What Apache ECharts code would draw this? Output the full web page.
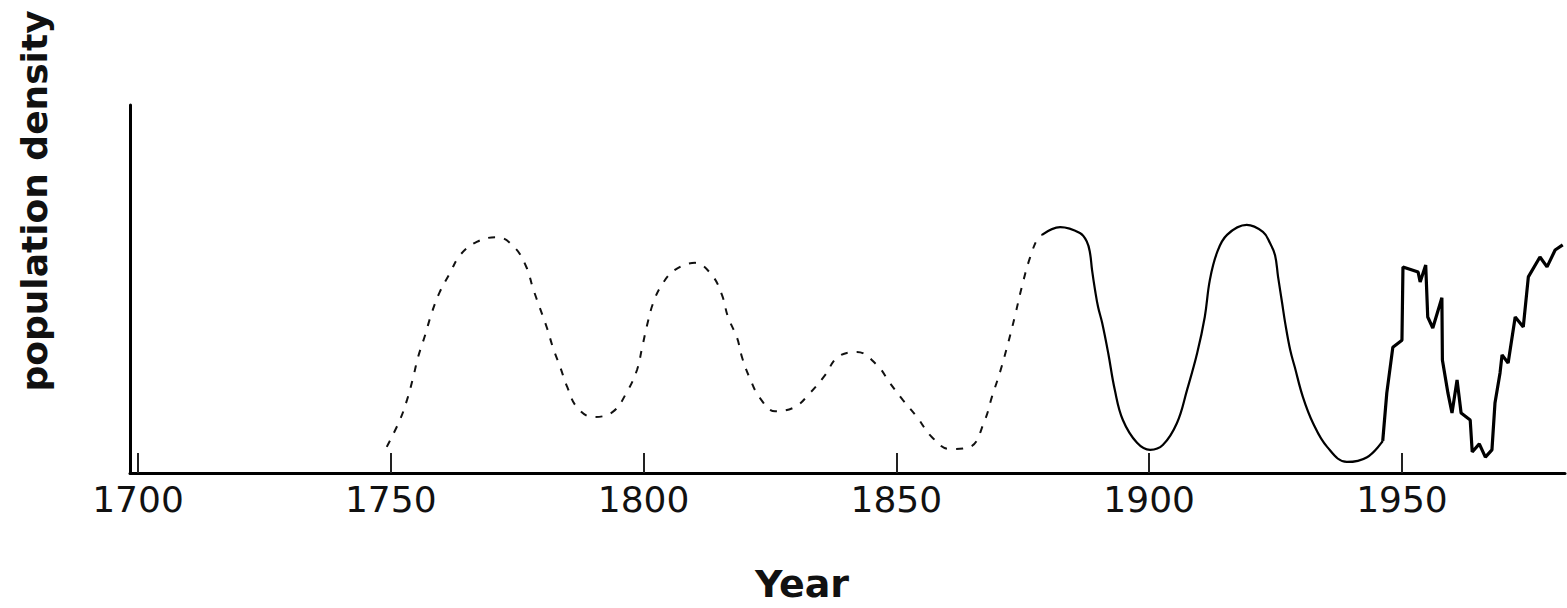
<!DOCTYPE html>
<html>
<head>
<meta charset="utf-8">
<script src="https://cdn.jsdelivr.net/npm/echarts@6/dist/echarts.min.js"></script>
<style>
html,body{margin:0;padding:0;background:#fff;}
#chart{width:1567px;height:608px;}
</style>
</head>
<body>
<div id="chart"></div>
<script>
// Reconstructed historical record (dashed, uncertain)
var dashedYears = [1749.2,1751.8,1753.2,1754.4,1755.4,1756.8,1758.1,1759.7,1761.7,1763.7,1767.0,1771.0,1774.6,1776.9,1778.1,1779.5,1780.9,1782.1,1783.5,1784.9,1786.8,1790.0,1793.9,1796.7,1798.7,1799.7,1800.7,1801.9,1803.6,1806.2,1810.2,1813.5,1815.5,1816.7,1818.5,1819.5,1821.0,1823.0,1826.0,1829.9,1832.9,1835.9,1838.4,1842.2,1846.2,1848.7,1851.3,1854.1,1857.0,1860.6,1864.6,1867.5,1868.9,1870.5,1872.1,1873.5,1874.8,1876.4,1878.0,1878.8];
var dashedDensity = [7.1,14.4,19.8,25.8,31.5,37.5,43.5,49.2,54.3,59.2,62.8,64.1,61.1,55.7,50.3,44.8,39.4,34.0,28.8,23.4,17.9,15.2,16.6,22.0,28.0,34.0,40.2,46.2,51.1,55.2,57.1,53.8,48.4,42.4,36.7,31.3,25.8,20.4,16.8,17.9,21.7,26.6,31.5,32.9,29.3,24.5,19.8,15.2,9.8,6.5,7.1,14.4,20.7,27.4,35.3,42.9,50.5,58.4,63.9,64.7];
// Solid smooth record
var solidYears = [1878.8,1882.4,1886.3,1887.7,1888.3,1888.7,1889.3,1889.9,1890.7,1891.9,1893.2,1894.8,1897.6,1900.2,1902.7,1905.5,1907.5,1909.5,1911.0,1912.0,1913.4,1915.4,1919.3,1922.5,1923.9,1924.9,1925.5,1926.3,1926.9,1927.9,1928.8,1930.4,1932.4,1935.2,1939.1,1943.1,1946.2];
var solidDensity = [64.7,66.8,65.2,62.8,59.8,55.2,49.7,45.1,40.8,32.6,22.6,14.4,8.2,6.3,7.6,13.6,22.6,32.6,42.4,52.4,59.8,64.7,67.4,65.5,62.5,59.2,53.3,46.2,40.8,33.4,28.8,20.7,13.6,7.1,3.0,4.3,8.7];
// Recent annual census
var recentYears = [1946.2,1947.0,1948.2,1950.0,1950.2,1953.2,1953.6,1954.7,1955.1,1956.1,1957.9,1958.0,1959.1,1959.9,1960.9,1961.7,1963.5,1963.9,1965.3,1966.5,1967.8,1968.4,1969.4,1969.8,1971.0,1972.4,1974.0,1975.0,1977.3,1978.7,1980.3,1981.8];
var recentDensity = [8.7,21.7,34.2,36.1,56.0,54.6,51.9,56.5,42.4,39.4,47.6,30.7,21.7,16.3,25.3,16.3,14.4,5.7,7.9,4.3,6.3,19.0,27.2,32.1,29.9,42.4,39.7,53.3,58.7,56.0,60.6,62.0];
// Axis tick labels
var tickYears = [1700,1750,1800,1850,1900,1950];

function pairs(xs, ys){ return xs.map(function(x,i){ return [x, ys[i]]; }); }

var chart = echarts.init(document.getElementById('chart'), null, {renderer:'svg'});
chart.setOption({
  animation:false,
  backgroundColor:'#fff',
  grid:{left:130, right:2, top:105, bottom:135, containLabel:false},
  xAxis:{
    type:'value', min:1698.42, max:1982.25,
    splitLine:{show:false},
    axisLine:{show:true, lineStyle:{color:'#000', width:3}},
    axisTick:{show:true, inside:true, length:20, customValues:tickYears, lineStyle:{color:'#222', width:2}},
    axisLabel:{show:true, customValues:tickYears, fontFamily:'DejaVu Sans', fontSize:36, color:'#111', margin:8,
      formatter:function(v){ return String(v); }}
  },
  yAxis:{
    type:'value', min:0, max:100,
    splitLine:{show:false},
    axisLine:{show:true, lineStyle:{color:'#000', width:3}},
    axisTick:{show:false},
    axisLabel:{show:false}
  },
  series:[
    {type:'line', data:pairs(dashedYears, dashedDensity), smooth:0.4, showSymbol:false,
     lineStyle:{color:'#111', width:2, type:[7,9]}},
    {type:'line', data:pairs(solidYears, solidDensity), smooth:0.4, showSymbol:false,
     lineStyle:{color:'#000', width:2.2}},
    {type:'line', data:pairs(recentYears, recentDensity), smooth:false, showSymbol:false,
     lineStyle:{color:'#000', width:3.2}}
  ],
  graphic:[
    {type:'text', x:34, y:201, rotation:Math.PI/2,
     style:{text:'population density', x:0, y:0, textAlign:'center', textVerticalAlign:'middle',
       font:'bold 36px "DejaVu Sans"', fill:'#111'}},
    {type:'text', x:802, y:584,
     style:{text:'Year', x:0, y:0, textAlign:'center', textVerticalAlign:'middle',
       font:'bold 38px "DejaVu Sans"', fill:'#111'}}
  ]
});
</script>
</body>
</html>
